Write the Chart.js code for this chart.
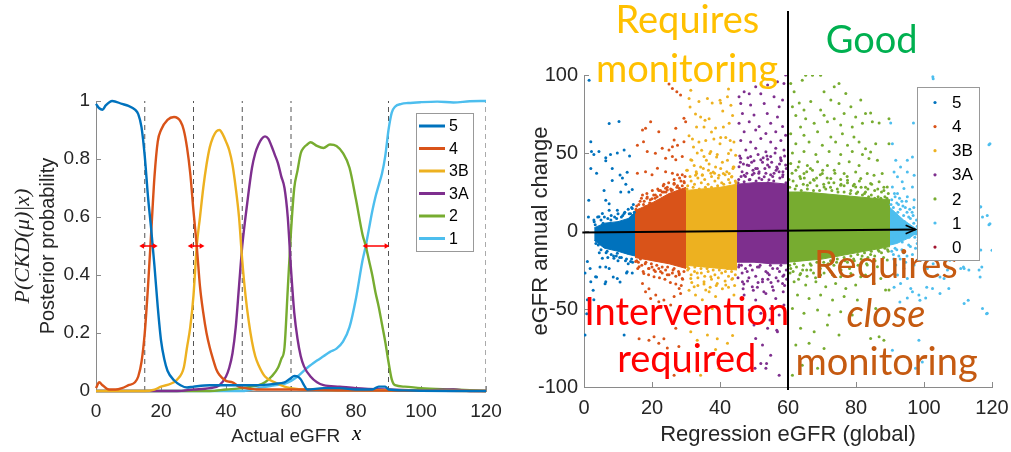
<!DOCTYPE html>
<html><head><meta charset="utf-8">
<script src="https://cdn.jsdelivr.net/npm/chart.js@4.4.1/dist/chart.umd.min.js"></script>
<style>
html,body{margin:0;padding:0;background:#fff;width:1011px;height:452px;overflow:hidden}
#c1{position:absolute;left:0;top:0}
#c2{position:absolute;left:505px;top:0}
</style></head><body>
<canvas id="c1" width="505" height="452"></canvas>
<canvas id="c2" width="506" height="452"></canvas>
<script>
// ---------------- DATA: left panel (posterior probability curves) ----------------
const classLabels = ['5','4','3B','3A','2','1'];
const s5x = [0,1,2,3,5,8,10,12,13,14,15,16,17,18,19,20,21,22,24,26,28,30,35,40,45,50,55,58,60,61,62,63,64,65,70,75,80,85,87,89,90,95,100,110,120];
const s5y = [0.99,0.975,0.97,0.985,1.0,0.99,0.983,0.97,0.955,0.91,0.81,0.67,0.556,0.43,0.29,0.175,0.11,0.07,0.037,0.02,0.012,0.015,0.02,0.02,0.02,0.02,0.025,0.03,0.045,0.052,0.05,0.04,0.02,0.005,0.01,0.01,0.005,0.005,0.015,0.015,0.005,0.002,0.001,0,0];
const s4x = [0,1,2,4,6,8,10,12,13,14,15,16,17,18,19,20,22,24,26,27,28,29,30,31,32,33,34,35,36,37,38,40,42,44,46,50,60,80,120];
const s4y = [0.01,0.03,0.02,0.005,0.005,0.01,0.02,0.03,0.05,0.1,0.2,0.36,0.55,0.74,0.86,0.9,0.935,0.945,0.93,0.9,0.84,0.75,0.62,0.5,0.36,0.27,0.2,0.15,0.11,0.075,0.055,0.035,0.03,0.015,0.01,0.005,0.005,0.002,0];
const s3Bx = [0,15,18,20,23,25,27,28,29,30,31,32,33,34,35,36,37,38,39,40,41,42,43,44,45,46,47,48,49,50,52,55,58,60,65,80,120];
const s3By = [0,0,0.005,0.015,0.025,0.04,0.08,0.15,0.22,0.33,0.5,0.6,0.7,0.78,0.84,0.875,0.895,0.9,0.885,0.86,0.83,0.78,0.7,0.6,0.45,0.33,0.24,0.17,0.12,0.09,0.05,0.03,0.015,0.01,0.005,0.003,0];
const s3Ax = [0,25,30,35,38,40,41,42,43,44,45,46,47,48,49,50,51,52,53,54,55,56,57,58,59,60,61,62,63,64,66,68,70,75,80,90,100,110,115,120];
const s3Ay = [0,0,0.005,0.01,0.02,0.05,0.08,0.13,0.22,0.36,0.5,0.6,0.69,0.77,0.82,0.85,0.87,0.878,0.87,0.845,0.815,0.785,0.74,0.7,0.6,0.42,0.27,0.18,0.12,0.085,0.05,0.03,0.02,0.015,0.01,0.005,0.002,0.005,0,0];
const s2x = [0,35,40,45,50,52,54,56,57,58,59,60,61,62,63,64,65,66,68,70,72,74,76,78,80,82,83,84,85,86,87,88,89,90,91,92,95,100,110,120];
const s2y = [0,0,0.005,0.01,0.02,0.03,0.05,0.08,0.11,0.15,0.35,0.55,0.7,0.76,0.82,0.84,0.85,0.858,0.845,0.838,0.85,0.845,0.82,0.77,0.66,0.54,0.5,0.45,0.4,0.34,0.29,0.23,0.17,0.1,0.04,0.02,0.015,0.01,0.005,0];
const s1x = [0,45,50,55,58,60,62,65,68,70,72,74,76,78,80,82,83,84,85,86,87,88,89,90,91,92,94,96,100,105,110,115,120];
const s1y = [0,0,0.01,0.02,0.025,0.035,0.05,0.08,0.105,0.12,0.135,0.146,0.17,0.22,0.32,0.45,0.5,0.56,0.62,0.67,0.71,0.75,0.81,0.9,0.96,0.98,0.99,0.993,0.996,0.998,0.995,0.999,1.0];
const stageBounds = [15,30,45,60,90,120];
const arrowStart = [14.3, 29.2, 83.0];
const arrowEnd = [18.0, 32.4, 89.3];
const arrowLevel = 0.5;
const xTicksLeft = [0,20,40,60,80,100,120];

// ---------------- DATA: right panel (scatter) ----------------
const scatterLabels = ['5','4','3B','3A','2','1','0'];
const pts5 = [1.5,96.7, 7.4,68.9, 10.3,70.2, 2,57.2, 4.4,51, 2.2,51, 2.9,49, 6.4,47, 7.8,49, 9.8,50, 11.8,52, 13.4,48, 6.4,45, 2,40, 3.7,37, 8.3,40, 10.6,35.9, 12.7,37.7, 11.3,34, 8.3,32.3, 12.3,30, 14.2,26.6, 10.8,25, 13.2,25, 5.9,26, 6.4,19.7, 1.4,19.7, 7.4,17.5, 7.4,13.3, 5.4,11.2, 9.8,13.3, 11.8,11.2, 14.2,14.4, 13.7,11, 4.4,9.1, 2.9,7, 1.3,9,
 1,-19.6, 2,-32.5, 3.4,-29.3, 6.4,-32.5, 7.4,-24, 9.8,-30.4, 12.7,-26.1, 14.2,-27, 1,-44, 2.9,-44, 0.3,-66.7, 11.8,-66.7, 6.4,-23, 5.4,-17.5, 9.8,-14.3, 8.8,-17.5, 13.7,-19.6, 0.8,-53, 1.8,-24, 4.7,-23, 3.7,-29.5, 6.2,-33.8, 12.5,-27, 10.6,-32.7, 8.6,-29.5, 0.3,-27, 2.7,-38,
 3,6, 4,9, 5,7, 6,9, 7,8, 8,10, 9,9, 10,11, 11,9, 12,12, 13,14, 14,15, 14.5,17, 3.5,-8, 5,-12, 6.5,-14, 8,-15, 9.5,-16, 11,-17, 12.5,-18, 14,-18, 4.5,-14, 7,-17, 10,-19, 13,-21,
 3.3,4, 4.2,-9, 5.6,5, 6.8,-13, 7.9,7, 8.7,-16, 9.6,8, 10.5,-17, 11.4,10, 12.2,-19, 13.3,11, 14.3,-20, 14.8,12];
const pts4 = [25,94.2, 26,91.4, 27.3,89.3, 28.4,87.2, 29.4,72.2, 29.9,70, 22,63.6, 19.6,70, 17.2,64.8, 18.1,65.8, 27,65.8, 26.5,58.3, 15.7,55, 17.5,57.2, 18.6,51, 21,49.9, 23,53, 25,52, 26,54, 27.5,55, 29.4,57.2, 24,46.7, 26,47.8, 27,45.6, 28.9,47.8, 15.7,37, 18.1,38, 20,36, 21.6,40.2, 24,38, 26,37, 27.5,36, 28.9,36, 26.5,30.6, 24,27.4, 26,26.3, 28,27.4, 29.4,31.7, 17.2,23, 18.6,21.8, 20,20.7, 21,23, 23,25, 24.5,26.3, 19.6,17.6, 18.1,15.6, 16.2,13.4, 15.2,12.3, 22,26, 23.5,30,
 15.2,-19.6, 16.2,-22.9, 17.6,-27.2, 19.1,-24, 20.6,-29.3, 22.5,-26, 24.5,-28, 26.5,-24, 28,-27.2, 28.9,-30.4, 17.2,-33.6, 19.1,-37, 21.1,-41, 23.5,-44.3, 26.5,-42, 28.4,-40, 19.6,-43.2, 18.1,-39, 25.5,-47.5, 22,-45.3, 19.1,-70, 22,-72, 27.9,-74, 26.5,-92.4, 24.5,-75, 20.6,-67.8, 16.2,-69, 23.5,-69, 27,-62.4, 28,-36.8,
 15.5,16, 16.5,19, 17.5,17, 18.5,21, 19.5,20, 20.5,23, 21.5,22, 22.5,26, 23.5,25, 24.5,28, 25.5,27, 26.5,30, 27.5,29, 28.5,32, 29.5,31, 16,-20, 17,-22, 18,-21, 19,-24, 20,-23, 21,-26, 22,-24, 23,-27, 24,-25, 25,-28, 26,-27, 27,-29, 28,-28, 29,-31, 15.5,-19,
 15.3,14, 16.1,17, 16.9,21, 17.7,19, 18.5,24, 19.3,18, 20.1,26, 20.9,21, 21.7,27, 22.5,23, 23.3,29, 24.1,25, 24.9,31, 25.7,26, 26.5,33, 27.3,28, 28.1,34, 28.9,29, 29.7,35, 15.8,-24, 16.6,-18, 17.4,-26, 18.2,-20, 19,-28, 19.8,-21, 20.6,-25, 21.4,-22, 22.2,-30, 23,-23, 23.8,-31, 24.6,-23, 25.4,-33, 26.2,-25, 27,-34, 27.8,-26, 28.6,-35, 29.4,-26];
const pts3B = [31.2,79.5, 34,96.6, 40,83.8, 42.5,91, 40.8,77, 35.6,71, 33.1,66.7, 37.5,63.5, 41,66.7, 43,58, 32.2,53.8, 34.6,51.7, 37,49.6, 40,56, 31.7,45.3, 36,45.3, 39,47.4, 42.5,49.6, 43.9,41, 30.2,38.9, 33.1,36.8, 35.1,40, 38,37.8, 41,36.8, 43.4,34.6,
 31.4,90.3, 30.9,85, 33.8,83, 36.3,85, 37.7,82, 40.2,82, 32.8,75, 34.3,73, 36.8,72, 35.3,66.7, 38.7,66, 30.9,61, 31.9,59, 33.8,57, 35.8,58, 38.2,59, 40.2,60, 33.3,50, 35.3,47.8, 37.3,51, 39.2,49, 31.4,45.6, 30.4,39, 32.4,42, 34.3,41, 36.8,43, 38.7,41, 40.7,44, 32.8,35.8, 34.8,35.8, 37.3,37, 39.7,35.8,
 42.2,86, 43.2,80.6, 43.7,74, 42.7,69, 41.7,60, 44.1,57, 43.2,52, 44.6,48.6, 42.2,45.4, 44.1,41, 42.7,36.8,
 30.4,-22.9, 31.4,-30.4, 33.3,-27, 35.3,-32.5, 37.3,-29.3, 39.2,-33.6, 30.9,-38, 32.8,-41, 34.8,-44, 36.8,-39, 38.7,-42, 31.4,-48.6, 34.3,-51.7, 37.7,-49.6, 31.4,-64.6, 33.3,-70, 36.3,-66.7, 38.7,-76, 39.2,-69, 39.7,-88, 34.3,-92.4, 30.9,-90.3, 32.4,-35.7, 35.8,-37.8,
 42.2,-24, 43.7,-30.4, 41.7,-34.6, 44.1,-41, 42.7,-47.5, 43.7,-67, 42.2,-72,
 30.5,29, 31.5,32, 32.5,30, 33.5,34, 34.5,31, 35.5,33, 36.5,30, 37.5,35, 38.5,32, 39.5,34, 40.5,31, 41.5,36, 42.5,33, 43.5,35, 44.5,32, 30.5,-25, 31.5,-28, 32.5,-26, 33.5,-30, 34.5,-27, 35.5,-29, 36.5,-26, 37.5,-31, 38.5,-28, 39.5,-30, 40.5,-27, 41.5,-32, 42.5,-29, 43.5,-31, 44.5,-28,
 30.3,27, 31.2,35, 32.1,28, 33,38, 33.9,27, 34.8,36, 35.7,28, 36.6,39, 37.5,28, 38.4,37, 39.3,29, 40.2,40, 41.1,30, 42,38, 42.9,31, 43.8,40, 44.7,31, 30.8,-24, 31.7,-33, 32.6,-23, 33.5,-35, 34.4,-24, 35.3,-34, 36.2,-24, 37.1,-36, 38,-25, 38.9,-35, 39.8,-25, 40.7,-37, 41.6,-26, 42.5,-36, 43.4,-26, 44.3,-35];
const pts3A = [59.3,100, 58.8,94.6, 56.9,95.7, 54,93.6, 50.5,92.5, 47.1,89.3, 45.6,86, 48.6,88, 52,88, 55.9,86, 58.4,83.9, 46.1,81.8, 49,80.7, 53,81.8, 57.4,79.6, 46.6,75.3, 50,74.3, 53.9,75.3, 56.9,73, 45.6,69, 48.6,70, 51.5,67, 54.9,69, 58.4,67, 47.1,63.6, 50.5,64.7, 53.5,62.5, 56.4,63.6, 59.3,61.4, 46.1,58, 49,57, 52,59.3, 54.9,57, 57.9,58, 47.6,52, 50.5,53, 53.5,50.8, 56.4,53, 58.8,52, 46.1,46.7, 49,47.8, 52,45.6, 54.9,47.8, 57.9,45.6, 45.6,41.2, 48,42.3, 51,40, 54,42.3, 56.9,40, 59.3,42.3, 47.1,35.8, 50,37, 53,34.8, 55.9,37, 58.4,34.8, 48.6,32.8, 54.4,32.8, 51.5,38, 57.4,38,
 45.6,-21.8, 48,-26, 51,-23, 54,-27, 56.9,-24, 58.8,-28.2, 46.6,-32.5, 49.5,-35.7, 52.5,-32.5, 55.4,-35.7, 58.4,-33.6, 47.1,-41, 50.5,-44.3, 53.5,-40, 56.4,-43.2, 58.8,-47.5, 48.6,-50.7, 52,-52.8, 54.9,-49.6, 57.4,-53.9, 50,-60.3, 54,-62.4, 56.9,-64.6, 52.5,-73, 54.9,-79.6, 52,-85, 57.4,-92.4, 53.5,-88, 50.5,-68.9, 50.3,-88, 53.7,-85, 56.7,-63.7, 54.7,-57,
 45.5,33, 46.5,38, 47.5,35, 48.5,42, 49.5,36, 50.5,40, 51.5,34, 52.5,44, 53.5,37, 54.5,41, 55.5,35, 56.5,39, 57.5,43, 58.5,36, 59.5,40, 46,44, 50,45, 54,46, 58,45, 45.5,-23, 46.5,-27, 47.5,-24, 48.5,-30, 49.5,-25, 50.5,-29, 51.5,-23, 52.5,-31, 53.5,-26, 54.5,-28, 55.5,-24, 56.5,-30, 57.5,-26, 58.5,-29, 59.5,-25, 47,-34, 51,-36, 55,-33, 59,-35,
 45.3,31, 46.2,35, 47.1,31.5, 47.9,37, 48.8,33, 49.7,39, 50.6,32, 51.4,37, 52.3,33, 53.2,40, 54.1,31, 54.9,36, 55.8,32, 56.7,41, 57.6,34, 58.5,38, 59.4,31, 45.8,48, 48.2,47, 51.2,49, 53.8,48, 56.2,50, 59,48, 46.9,43, 49.3,44, 52.7,47, 55.2,44, 57.8,47, 45.3,-30, 46.8,-37, 48.1,-32, 49.8,-38, 51.2,-33, 52.9,-39, 54.1,-31, 55.7,-38, 57.1,-32, 58.6,-39, 59.6,-31, 46.3,-22, 48.9,-22, 51.8,-22, 54.8,-22, 57.9,-22];
const pts2 = [65.2,99.9, 67.2,99.9, 69.6,99.9, 60.8,94.6, 64.2,96.7, 61.8,89.2, 73.6,92.4, 75,94.6, 77,88.2, 70.6,89.3, 72.6,84, 66.7,83, 63.3,82, 61.3,79.6, 64.7,77.5, 69.6,77.5, 75,81.8, 78.5,79.6, 81.4,84, 62.3,74, 65.2,72, 70.6,74.2, 73.6,72, 76.5,75.3, 79.9,73, 63.7,66.7, 67.7,69, 71.6,70, 75.5,68, 78.9,66.7, 81.9,69, 60.8,62.4, 64.7,61.4, 68.7,63.6, 72.6,60.3, 76,62.4, 79.4,60.3, 62.3,56, 66.2,57, 70.1,55, 74,57, 77.5,55, 80.9,57, 61.3,50, 64.7,51, 68.2,49, 72.1,51, 75.5,49, 78.9,51, 81.9,49,
 60.8,43.3, 63.3,44.4, 65.7,42, 68.7,44.4, 71.6,42, 75,43.3, 78,44.4, 80.9,42, 62.3,38.9, 64.7,36.8, 67.2,38.9, 70.1,36.8, 73.6,38.9, 76.5,36.8, 79.9,37.8, 63.7,33.6, 67.7,32.5, 72.6,33.6, 77.5,32.5, 81.4,33.6, 65.7,29.3, 70.6,28.2, 75.5,29.3, 79.9,28.2,
 82.8,75.3, 84.3,75.7, 84.8,70, 86.8,69.3, 89.7,72, 82.8,52.8, 84.3,50.7, 86.3,45.4, 83.8,46.5, 85.8,56, 89.7,56, 83.3,36.8, 85.3,35.8, 87.7,36.8, 84.3,30.4, 86.8,31.5, 89.2,28.2, 82.8,25, 88.2,26,
 60.8,-24, 63.7,-27.2, 66.7,-25, 69.6,-28.2, 72.6,-26, 75.5,-29.3, 78.5,-27.2, 81.4,-29.3, 61.8,-32.5, 65.2,-34.6, 68.2,-32.5, 71.1,-35.7, 74,-33.6, 77,-36.8, 79.9,-34.6, 62.8,-41, 66.2,-43.2, 69.6,-41, 73.1,-44.3, 76.5,-42, 80.4,-44.3, 61.3,-49.6, 64.7,-52.8, 68.7,-50.7, 72.1,-53.9, 75.5,-51.7, 78.9,-53.9, 63.7,-62.4, 67.7,-64.6, 71.6,-60.3, 75,-66.7, 62.3,-73, 66.2,-72, 70.6,-75.3, 64.2,-86, 68.7,-88, 72.6,-83.8, 61.3,-92.4,
 82.8,-28.2, 85.3,-33.6, 87.3,-30.4, 88.7,-37.8, 85.8,-49.6, 84.3,-68.9, 86.8,-67.8, 88.2,-70, 89.7,-37.8, 83.3,-21.8, 86.3,-22.9, 89.2,-18.6,
 60.5,28, 61.5,32, 62.5,29, 63.5,35, 64.5,30, 65.5,38, 66.5,31, 67.5,33, 68.5,29, 69.5,36, 70.5,30, 71.5,34, 72.5,28, 73.5,31, 74.5,27, 75.5,33, 76.5,29, 77.5,31, 78.5,26, 79.5,30, 80.5,25, 81.5,28, 82.5,24, 83.5,27, 84.5,23, 85.5,26, 86.5,22, 87.5,25, 88.5,22, 89.5,24,
 60.5,-22, 61.5,-26, 62.5,-23, 63.5,-28, 64.5,-22, 65.5,-25, 66.5,-21, 67.5,-27, 68.5,-20, 69.5,-24, 70.5,-20, 71.5,-23, 72.5,-19, 73.5,-22, 74.5,-18, 75.5,-21, 76.5,-17, 77.5,-20, 78.5,-16, 79.5,-19, 80.5,-15, 81.5,-18, 82.5,-14, 83.5,-17, 84.5,-13, 85.5,-16, 86.5,-12, 87.5,-14, 88.5,-11, 89.5,-13,
 60.3,33, 61.2,37, 62.1,27, 63,41, 63.9,26, 64.8,34, 65.7,27, 66.6,40, 67.5,26, 68.4,34, 69.3,26, 70.2,39, 71.1,27, 72,31, 72.9,26, 73.8,37, 74.7,25, 75.6,30, 76.5,25, 77.4,35, 78.3,24, 79.2,29, 80.1,24, 81,32, 81.9,23, 82.8,28, 83.7,22, 84.6,30, 85.5,21, 86.4,27, 87.3,21, 88.2,28, 89.1,21,
 60.6,-27, 61.9,-21, 63.1,-31, 64.3,-25, 65.6,-29, 66.8,-22, 68.1,-30, 69.3,-21, 70.6,-27, 71.8,-21, 73.1,-28, 74.3,-20, 75.6,-25, 76.8,-19, 78.1,-24, 79.3,-18, 80.6,-22, 81.8,-16, 83.1,-21, 84.3,-15, 85.6,-19, 86.8,-13, 88.1,-17, 89.3,-12];
const pts1 = [102.6,98.8, 96.9,69.3, 90.2,69.3, 90.7,56, 119.1,55.3, 91.7,45.4, 95.1,45.4, 96.6,47.5, 93.1,41, 91.2,37.8, 95.1,37.8, 97.1,35.8, 92.2,34.8, 93.6,31.5, 90.7,28.2, 94.1,27.2, 96.6,28.2, 92.2,24, 95.1,22, 97.1,20, 116.7,15.5, 117.2,9, 118.6,10, 119.1,4, 102.7,97.6, 119.4,56, 116.5,15.4, 119.4,4.7,
 120,-12.4, 117,-23, 113,-44.4, 118.4,-53, 116.5,-29.5, 111.6,-23, 107.6,-18.8, 102.7,-21, 104.7,-29.5, 100.8,-36, 104.7,-40, 98.8,-44.4, 92.9,-45.5,
 116.2,-25, 111.8,-24, 113.2,-25, 107.3,-36.8, 102.5,-36.8, 100.5,-43, 98.5,-41, 96.1,-36.8, 95.1,-43, 96.6,-39, 111.8,-46.4, 117.2,-49.6, 118.6,-52.8, 98.5,-70, 90.7,-76.4, 99.5,-84, 97.5,-88, 95.1,-30.4, 93.1,-33.6, 91.2,-36, 92.2,-28.2, 94.1,-24, 97.1,-21.8, 99,-18.6, 91.7,-21.8, 101,-24, 105.9,-30.4, 103.9,-28.2, 116.7,-12.2, 110.8,-24, 106.9,-25,
 91,15, 92,18, 93,14, 94,10, 95,12, 96,8, 97,5, 98,3, 99,-2, 100,1, 92,-12, 94,-14, 96,-10, 98,-8, 100,-6, 101,-3, 97,15, 99,10, 95,-16, 93,-18, 91,-15, 90.5,20, 91.5,22, 92.5,17, 93.5,19, 94.5,15, 95.5,9, 96.5,12, 90.5,-13, 91.5,-11, 93.5,-12, 95.5,-9, 97.5,-11,
 90.3,17, 90.8,9, 91.3,24, 91.8,5, 92.3,12, 92.8,21, 93.3,3, 93.8,16, 94.3,6, 94.8,19, 95.3,2, 95.8,14, 96.3,-2, 96.8,10, 97.3,-4, 97.8,7, 98.3,-6, 98.8,4, 99.3,-9, 99.8,6, 100.5,-12, 101.5,2, 102.5,-8, 90.6,-5, 91.1,-18, 92.1,-3, 92.6,-16, 93.6,-7, 94.6,-20, 95.6,-4, 96.6,-15, 97.6,-2, 98.6,-13, 99.6,3, 103,-14, 104,5];
const pts0 = [];
// dense cores (upper / lower edge of the solid cloud)
const coreX5 = [3,6,10,13,15],          coreTop5 = [2,5,6,8,12],        coreBot5 = [-6,-11,-13,-15,-16];
const coreX4 = [15,20,25,30],           coreTop4 = [13,18,24,28],       coreBot4 = [-17,-19,-21,-24];
const coreX3B = [30,35,40,45],          coreTop3B = [26,27,28,30],      coreBot3B = [-22,-23,-24,-25];
const coreX3A = [45,50,55,60],          coreTop3A = [30,31,31,30],      coreBot3A = [-20,-20,-21,-21];
const coreX2 = [60,65,70,75,80,85,90],  coreTop2 = [25,25,24,23,22,21,20], coreBot2 = [-20,-19,-18,-16,-14,-12,-10];
const coreX1 = [90,92,94,96,98],        coreTop1 = [15,11,7,4,1],       coreBot1 = [-9,-8,-6,-4,-1];
const splitLineX = [60,60], splitLineY = [-102,141];
const arrowX = [-0.5,97.5], arrowY = [-1,0.9];
const arrowHeadX = [94.6,97.5,94.6], arrowHeadY = [3.7,0.9,-1.7];
const annoTexts = ['Requires','monitoring','Good','Intervention','required','Requires','close','monitoring'];
const annoX = [30.4,30.3,84.6,30.2,30.2,88.8,88.8,89.0];
const annoY = [126.9,95.4,114.1,-60.5,-90.7,-30.4,-61.8,-92.6];

// ---------------- helpers / styles ----------------
const colors = ['#0072BD','#D95319','#EDB120','#7E2F8E','#77AC30','#4DBEEE','#A2142F'];
const annoColors = ['#FFC000','#FFC000','#00B050','#FF0000','#FF0000','#C55A11','#C55A11','#C55A11'];
const annoItalic = [false,false,false,false,false,false,true,false];
const pairs = (xs, ys) => xs.map((x, i) => ({x, y: ys[i]}));
const flat = a => { const o = []; for (let i = 0; i < a.length; i += 2) o.push({x: a[i], y: a[i+1]}); return o; };
Chart.defaults.font.family = '"Liberation Sans", Arial, sans-serif';
Chart.defaults.color = '#262626';
const axisGray = '#8a8a8a';
const noPadH = s => { s.paddingLeft = 0; s.paddingRight = 0; };
const noPadV = s => { s.paddingTop = 0; s.paddingBottom = 0; };

const boxLegend = {
  id: 'boxLegend',
  afterDraw(chart, args, o) {
    const ctx = chart.ctx;
    const items = chart.data.datasets.filter(d => d.legendItem);
    ctx.save();
    ctx.fillStyle = '#fff';
    ctx.fillRect(o.x, o.y, o.w, o.h);
    ctx.strokeStyle = '#999'; ctx.lineWidth = 1;
    ctx.strokeRect(o.x + 0.5, o.y + 0.5, o.w, o.h);
    ctx.font = o.font; ctx.textBaseline = 'middle'; ctx.textAlign = 'left';
    items.forEach((d, i) => {
      const yy = o.row0 + i * o.rowH;
      if (o.kind === 'line') {
        ctx.strokeStyle = d.borderColor; ctx.lineWidth = 3;
        ctx.beginPath(); ctx.moveTo(o.s0, yy); ctx.lineTo(o.s1, yy); ctx.stroke();
      } else {
        ctx.fillStyle = d.backgroundColor;
        ctx.beginPath(); ctx.arc(o.s0, yy, 1.6, 0, Math.PI * 2); ctx.fill();
      }
      ctx.fillStyle = '#000';
      ctx.fillText(d.label, o.tx, yy + 1);
    });
    ctx.restore();
  }
};

const xMark = {
  id: 'xMark',
  afterDraw(chart, args, o) {
    const ctx = chart.ctx, sx = chart.scales.x;
    ctx.save();
    ctx.font = o.font; ctx.fillStyle = '#000'; ctx.textAlign = 'center'; ctx.textBaseline = 'alphabetic';
    ctx.fillText(o.text, sx.getPixelForValue(o.at), sx.bottom - o.lift);
    ctx.restore();
  }
};

const annot = {
  id: 'annot',
  afterDatasetsDraw(chart, args, o) {
    const ctx = chart.ctx, sx = chart.scales.x, sy = chart.scales.y;
    ctx.save();
    ctx.textAlign = 'center'; ctx.textBaseline = 'alphabetic';
    annoTexts.forEach((t, i) => {
      ctx.font = (annoItalic[i] ? 'italic ' : '') + o.size + 'px ' + o.family;
      ctx.fillStyle = annoColors[i];
      ctx.fillText(t, sx.getPixelForValue(annoX[i]), sy.getPixelForValue(annoY[i]));
    });
    ctx.restore();
  }
};

// ---------------- left chart ----------------
const seriesX = [s5x, s4x, s3Bx, s3Ax, s2x, s1x];
const seriesY = [s5y, s4y, s3By, s3Ay, s2y, s1y];
const leftSets = [];
arrowStart.forEach((a, i) => leftSets.push({
  data: [{x: a, y: arrowLevel}, {x: arrowEnd[i], y: arrowLevel}],
  borderColor: '#ff0000', borderWidth: 1.5, pointRadius: 3.2, pointStyle: 'triangle',
  pointRotation: [-90, 90], pointBackgroundColor: '#ff0000', pointBorderWidth: 0
}));
classLabels.forEach((lab, i) => leftSets.push({
  label: lab, legendItem: true, data: pairs(seriesX[i], seriesY[i]),
  borderColor: colors[i], backgroundColor: colors[i], borderWidth: 2.4,
  pointRadius: 0, cubicInterpolationMode: 'monotone', clip: 4
}));
stageBounds.forEach(b => leftSets.push({
  data: [{x: b, y: 0}, {x: b, y: 1}], borderColor: '#555', borderWidth: 1,
  borderDash: [5, 4], pointRadius: 0
}));

new Chart(document.getElementById('c1'), {
  type: 'line',
  data: {datasets: leftSets},
  plugins: [boxLegend, xMark],
  options: {
    responsive: false, animation: false, events: [],
    layout: {padding: {top: 101, right: 19, left: 0, bottom: 0}},
    plugins: {
      legend: {display: false}, tooltip: {enabled: false},
      boxLegend: {x: 416, y: 113, w: 57, h: 138, row0: 126, rowH: 22.5, kind: 'line', s0: 419, s1: 445, tx: 449, font: '16px "Liberation Sans", Arial'},
      xMark: {text: 'x', at: 80.2, lift: 12, font: 'italic 21px "Liberation Serif", serif'}
    },
    scales: {
      x: {
        type: 'linear', min: 0, max: 120,
        afterBuildTicks: s => { s.ticks = xTicksLeft.map(v => ({value: v})); },
        ticks: {font: {size: 19}, padding: 14, maxRotation: 0},
        grid: {drawOnChartArea: false, tickLength: -5, color: axisGray},
        border: {color: axisGray},
        title: {display: true, text: 'Actual eGFR  ', font: {size: 19}, color: '#262626', padding: {top: 0, bottom: 4}},
        afterFit: s => { s.height = 61; noPadH(s); }
      },
      y: {
        min: 0, max: 1, weight: 0,
        ticks: {stepSize: 0.2, font: {size: 19}, padding: 11, callback: v => String(Math.round(v * 10) / 10)},
        grid: {drawOnChartArea: false, tickLength: -5, color: axisGray},
        border: {color: axisGray},
        title: {display: true, text: 'Posterior probability', font: {size: 20}, color: '#262626', padding: {top: 0, bottom: 0}},
        afterFit: s => { s.width = 60; noPadV(s); }
      },
      y2: {
        position: 'left', min: 0, max: 1, weight: 1,
        ticks: {display: false}, grid: {display: false}, border: {display: false},
        title: {display: true, text: 'P(CKD(μ)|x)', font: {size: 22, style: 'italic', family: '"Liberation Serif", serif'}, color: '#262626', padding: {top: 10, bottom: 0}},
        afterFit: s => { s.width = 36; noPadV(s); }
      }
    }
  }
});

// ---------------- right chart ----------------
const ptsAll = [pts5, pts4, pts3B, pts3A, pts2, pts1, pts0];
const coreXs = [coreX5, coreX4, coreX3B, coreX3A, coreX2, coreX1];
const coreTops = [coreTop5, coreTop4, coreTop3B, coreTop3A, coreTop2, coreTop1];
const coreBots = [coreBot5, coreBot4, coreBot3B, coreBot3A, coreBot2, coreBot1];
const rightSets = [
  {type: 'line', data: pairs(splitLineX, splitLineY), borderColor: '#000', borderWidth: 2, pointRadius: 0, clip: false},
  {type: 'line', data: pairs(arrowX, arrowY), borderColor: '#000', borderWidth: 2, pointRadius: 0, clip: false},
  {type: 'line', data: pairs(arrowHeadX, arrowHeadY), borderColor: '#000', borderWidth: 1.6, pointRadius: 0, clip: false, tension: 0}
];
scatterLabels.forEach((lab, i) => rightSets.push({
  type: 'scatter', label: lab, legendItem: true, data: flat(ptsAll[i]),
  backgroundColor: colors[i], borderColor: colors[i], pointRadius: 1.5, pointBorderWidth: 0
}));
coreXs.forEach((cx, i) => {
  rightSets.push({type: 'line', data: pairs(cx, coreTops[i]), fill: '+1', backgroundColor: colors[i], borderColor: colors[i], borderWidth: 1, pointRadius: 0, tension: 0});
  rightSets.push({type: 'line', data: pairs(cx, coreBots[i]), fill: false, backgroundColor: colors[i], borderColor: colors[i], borderWidth: 1, pointRadius: 0, tension: 0});
});

new Chart(document.getElementById('c2'), {
  type: 'scatter',
  data: {datasets: rightSets},
  plugins: [annot, boxLegend],
  options: {
    responsive: false, animation: false, events: [],
    layout: {padding: {top: 75, right: 19, left: 0, bottom: 0}},
    plugins: {
      legend: {display: false}, tooltip: {enabled: false},
      annot: {size: 38, family: 'Lato, "Open Sans", sans-serif'},
      boxLegend: {x: 412, y: 87, w: 62, h: 173, row0: 102.5, rowH: 24.1, kind: 'dot', s0: 430, tx: 447, font: '17px "Liberation Sans", Arial'}
    },
    scales: {
      x: {
        type: 'linear', min: 0, max: 120,
        ticks: {stepSize: 20, font: {size: 20}, padding: 14, maxRotation: 0},
        grid: {drawOnChartArea: false, tickLength: -5, color: axisGray},
        border: {color: axisGray},
        title: {display: true, text: 'Regression eGFR (global)', font: {size: 22}, color: '#262626', padding: {top: 0, bottom: 4}},
        afterFit: s => { s.height = 65; noPadH(s); }
      },
      y: {
        min: -100, max: 100,
        ticks: {stepSize: 50, font: {size: 20}, padding: 11},
        grid: {drawOnChartArea: false, tickLength: -5, color: axisGray},
        border: {color: axisGray},
        title: {display: true, text: 'eGFR annual change', font: {size: 22}, color: '#262626', padding: {top: 23, bottom: 0}},
        afterFit: s => { s.width = 79; noPadV(s); }
      }
    }
  }
});
</script>
</body></html>
